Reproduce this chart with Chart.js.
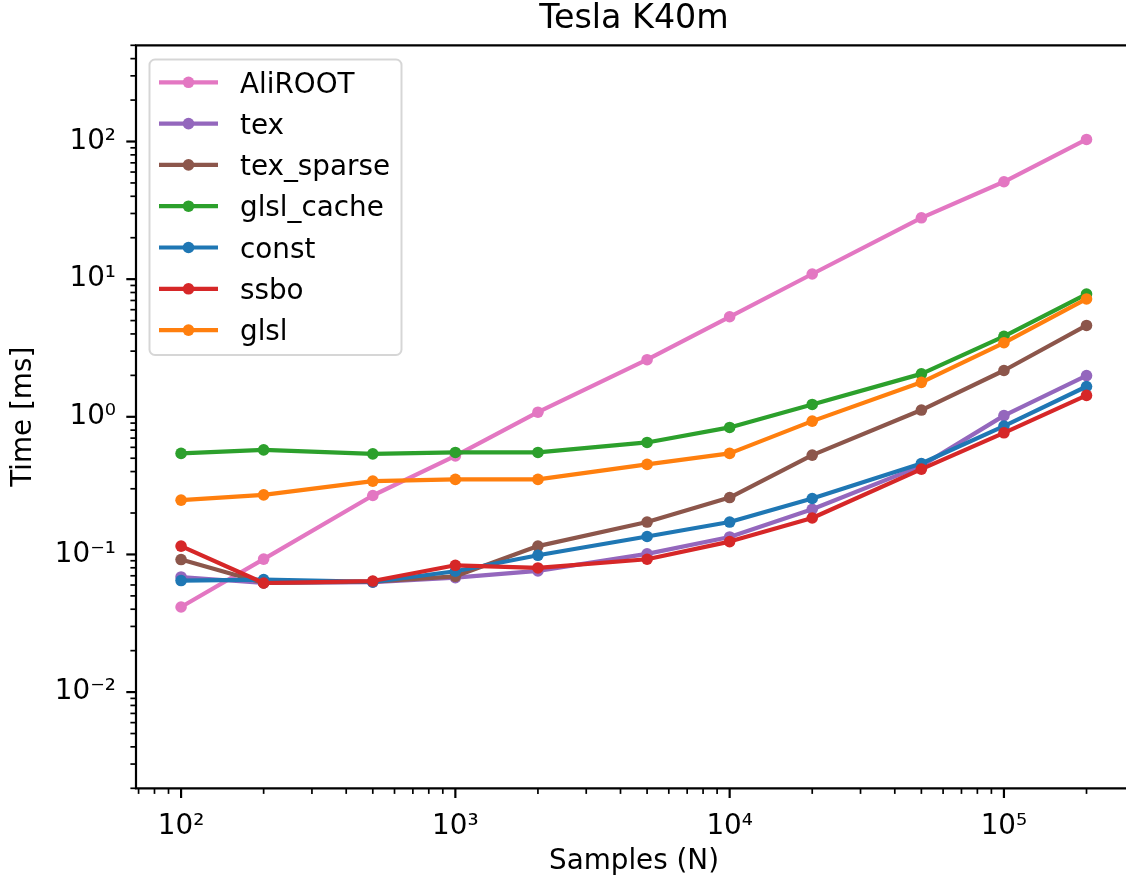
<!DOCTYPE html>
<html>
<head>
<meta charset="utf-8">
<title>Tesla K40m</title>
<script src="https://cdn.jsdelivr.net/npm/chart.js@4/dist/chart.umd.min.js"></script>
<style>
html, body { margin: 0; padding: 0; background: #fff; overflow: hidden; }
#wrap { width: 1126px; height: 877px; overflow: hidden; }
</style>
</head>
<body>
<div id="wrap"><canvas id="chart" width="1132" height="877"></canvas></div>
<script>
// x values (number of samples) and time in ms per implementation
var samples = [100, 200, 500, 1000, 2000, 5000, 10000, 20000, 50000, 100000, 200000];

var aliroot   = [0.0415, 0.0925, 0.268, 0.52, 1.08, 2.6, 5.33, 10.9, 27.9, 51, 103.5];
var tex       = [0.0686, 0.062, 0.0628, 0.0679, 0.0759, 0.101, 0.134, 0.213, 0.44, 1.02, 1.99];
var texSparse = [0.0918, 0.062, 0.0635, 0.0694, 0.115, 0.172, 0.259, 0.527, 1.12, 2.17, 4.61];
var glslCache = [0.542, 0.575, 0.538, 0.551, 0.551, 0.651, 0.837, 1.23, 2.05, 3.84, 7.8];
var constBuf  = [0.0646, 0.0657, 0.0631, 0.0755, 0.0986, 0.135, 0.172, 0.255, 0.458, 0.856, 1.66];
var ssbo      = [0.115, 0.062, 0.0641, 0.0834, 0.0798, 0.0923, 0.124, 0.184, 0.417, 0.765, 1.43];
var glsl      = [0.248, 0.271, 0.341, 0.351, 0.351, 0.451, 0.542, 0.93, 1.78, 3.45, 7.18];

var seriesNames  = ['AliROOT', 'tex', 'tex_sparse', 'glsl_cache', 'const', 'ssbo', 'glsl'];
var seriesValues = [aliroot, tex, texSparse, glslCache, constBuf, ssbo, glsl];
var seriesColors = ['#e377c2', '#9467bd', '#8c564b', '#2ca02c', '#1f77b4', '#d62728', '#ff7f0e'];

// labelled decades on each axis
var xDecades = [2, 3, 4, 5];
var yDecades = [-2, -1, 0, 1, 2];

var FONT = 'DejaVu Sans';
var FS = 27.8;
var sup = { '0': '\u2070', '1': '\u00b9', '2': '\u00b2', '3': '\u00b3', '4': '\u2074', '5': '\u2075', '-': '\u207b' };

function powLabel(e) {
    return '10' + String(e).split('').map(function (c) { return sup[c]; }).join('');
}

// 1..9 x 10^e ticks between min and max, majors flagged
function logTicks(min, max, decades) {
    var out = [];
    for (var e = Math.floor(Math.log10(min)); e <= Math.ceil(Math.log10(max)); e++) {
        for (var m = 1; m <= 9; m++) {
            var v = Number((m * Math.pow(10, e)).toPrecision(6));
            if (v >= min && v <= max) {
                out.push({ value: v, big: m === 1 && decades.indexOf(e) >= 0, exp: e });
            }
        }
    }
    return out;
}

var datasets = seriesNames.map(function (name, i) {
    return {
        label: name,
        data: samples.map(function (s, k) { return { x: s, y: seriesValues[i][k] }; }),
        borderColor: seriesColors[i],
        backgroundColor: seriesColors[i],
        borderWidth: 4.2,
        borderJoinStyle: 'round',
        pointRadius: 5.8,
        pointBorderWidth: 0,
        pointHoverRadius: 5.8,
        tension: 0,
        fill: false,
        order: seriesNames.length - i
    };
});

// spines and tick marks, matplotlib style
var frame = {
    id: 'frame',
    afterDatasetsDraw: function (chart) {
        var a = chart.chartArea, ctx = chart.ctx;
        var xs = chart.scales.x, ys = chart.scales.y;
        ctx.save();
        ctx.strokeStyle = '#000';
        xs.ticks.forEach(function (t) {
            var px = xs.getPixelForValue(t.value);
            if (px < a.left + 1 || px > a.right) return;
            ctx.lineWidth = t.big ? 2.2 : 1.7;
            ctx.beginPath();
            ctx.moveTo(px, a.bottom);
            ctx.lineTo(px, a.bottom + (t.big ? 9.7 : 5.6));
            ctx.stroke();
        });
        ys.ticks.forEach(function (t) {
            var py = ys.getPixelForValue(t.value);
            if (py < a.top || py > a.bottom) return;
            ctx.lineWidth = t.big ? 2.2 : 1.7;
            ctx.beginPath();
            ctx.moveTo(a.left, py);
            ctx.lineTo(a.left - (t.big ? 9.7 : 5.6), py);
            ctx.stroke();
        });
        ctx.lineWidth = 2.2;
        ctx.beginPath();
        ctx.moveTo(a.right, a.top);
        ctx.lineTo(a.left, a.top);
        ctx.lineTo(a.left, a.bottom);
        ctx.lineTo(a.right, a.bottom);
        ctx.lineTo(a.right, a.top);
        ctx.stroke();
        ctx.restore();
    }
};

// legend box in the upper left with line + marker handles
var legendBox = {
    id: 'legendBox',
    afterDraw: function (chart) {
        var ctx = chart.ctx;
        ctx.save();
        ctx.beginPath();
        ctx.roundRect(149.5, 59.5, 252, 295.5, 5.5);
        ctx.fillStyle = 'rgba(255,255,255,0.8)';
        ctx.fill();
        ctx.lineWidth = 2;
        ctx.strokeStyle = 'rgba(204,204,204,0.8)';
        ctx.stroke();
        ctx.font = FS + 'px "' + FONT + '"';
        ctx.textBaseline = 'alphabetic';
        ctx.textAlign = 'left';
        chart.data.datasets.forEach(function (ds, i) {
            var cy = 82.3 + i * 41.3;
            ctx.strokeStyle = ds.borderColor;
            ctx.lineWidth = 4.2;
            ctx.beginPath();
            ctx.moveTo(159, cy);
            ctx.lineTo(218, cy);
            ctx.stroke();
            ctx.fillStyle = ds.borderColor;
            ctx.beginPath();
            ctx.arc(188.5, cy, 5.8, 0, Math.PI * 2);
            ctx.fill();
            ctx.fillStyle = '#000';
            ctx.fillText(ds.label, 240, cy + 10.2);
        });
        ctx.restore();
    }
};

new Chart(document.getElementById('chart').getContext('2d'), {
    type: 'line',
    data: { datasets: datasets },
    options: {
        responsive: false,
        animation: false,
        devicePixelRatio: 1,
        events: [],
        layout: { padding: 0, autoPadding: false },
        plugins: {
            legend: { display: false },
            tooltip: { enabled: false },
            title: {
                display: true,
                text: 'Tesla K40m',
                color: '#000',
                fullSize: false,
                font: { family: FONT, size: 33.3, weight: 'normal', lineHeight: 1.0 },
                padding: { top: 3, bottom: 9 }
            }
        },
        scales: {
            x: {
                type: 'logarithmic',
                min: 68.5,
                max: 293000,
                grid: { display: false, drawTicks: false },
                border: { display: false },
                afterBuildTicks: function (scale) {
                    scale.ticks = logTicks(scale.min, scale.max, xDecades);
                },
                afterFit: function (scale) { scale.height = 88.7; },
                ticks: {
                    autoSkip: false,
                    maxRotation: 0,
                    minRotation: 0,
                    padding: 22,
                    color: '#000',
                    font: { family: FONT, size: FS },
                    callback: function (v, i, ticks) {
                        return ticks[i].big ? powLabel(ticks[i].exp) : '';
                    }
                },
                title: {
                    display: true,
                    text: 'Samples (N)',
                    color: '#000',
                    font: { family: FONT, size: FS, lineHeight: 1.0 },
                    padding: { top: 0, bottom: 1 }
                }
            },
            y: {
                type: 'logarithmic',
                min: 0.002,
                max: 500,
                grid: { display: false, drawTicks: false },
                border: { display: false },
                afterBuildTicks: function (scale) {
                    scale.ticks = logTicks(scale.min, scale.max, yDecades);
                },
                afterFit: function (scale) { scale.width = 136; },
                ticks: {
                    autoSkip: false,
                    padding: 20,
                    color: '#000',
                    font: { family: FONT, size: FS },
                    callback: function (v, i, ticks) {
                        return ticks[i].big ? powLabel(ticks[i].exp) : '';
                    }
                },
                title: {
                    display: true,
                    text: 'Time [ms]',
                    color: '#000',
                    font: { family: FONT, size: FS, lineHeight: 1.2 },
                    padding: { top: 7, bottom: 0 }
                }
            }
        }
    },
    plugins: [frame, legendBox]
});
</script>
</body>
</html>
